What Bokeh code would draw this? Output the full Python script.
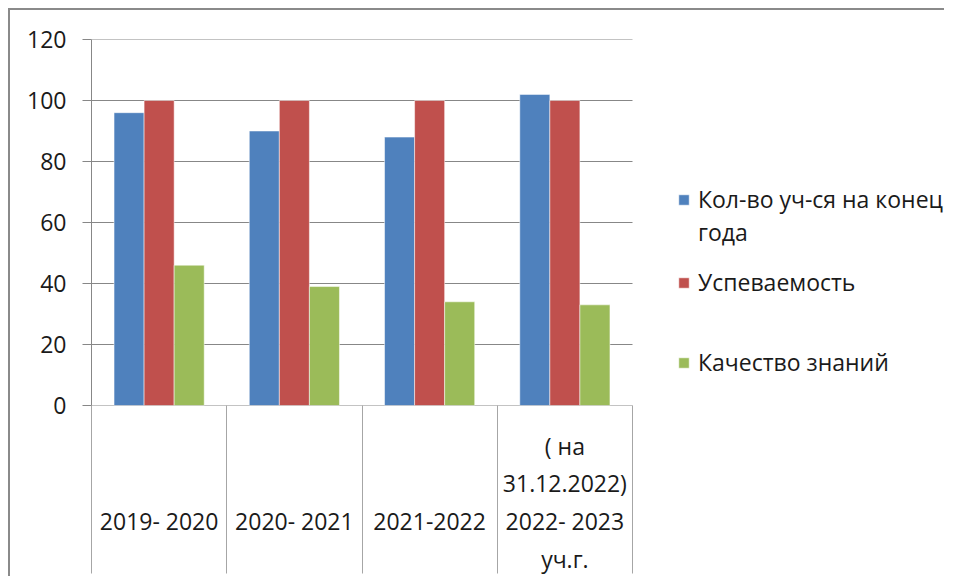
from bokeh.plotting import figure
from bokeh.models import Range1d, FixedTicker, Legend, LegendItem, ColumnDataSource
from bokeh.embed import file_html
from bokeh.resources import INLINE

categories = ["\n\n2019- 2020", "\n\n2020- 2021", "\n\n2021-2022", "( на\n31.12.2022)\n2022- 2023\nуч.г."]
series_names = ["Кол-во уч-ся на конец", "Успеваемость", "Качество знаний"]
series_name_wrap = "года"
students = [96, 90, 88, 102]
progress = [100, 100, 100, 100]
quality = [46, 39, 34, 33]
y_ticks = [0, 20, 40, 60, 80, 100, 120]

colors = ["#4F81BD", "#C0504D", "#9BBB59"]
FONT = "Open Sans"
FS = "23px"
TXT = "#1a1a1a"
GRID = "#878787"

n = len(categories)
centers = [i + 0.5 for i in range(n)]
bw = 1 / 4.5

PLOT_W = 541          # width of the bar area in px
FRAME_W = 855         # frame also holds the legend on the right
x_end = n * FRAME_W / PLOT_W

p = figure(frame_width=FRAME_W, frame_height=366, min_border_left=81, min_border_top=29,
           min_border_bottom=170, min_border_right=0,
           x_range=Range1d(0, x_end), y_range=Range1d(0, 120),
           output_backend="svg", toolbar_location=None)
p.styles = {"position": "absolute", "left": "10px", "top": "10px",
            "box-shadow": "-2px -2px 0px 0px #8a8a8a"}
p.outline_line_color = None
p.background_fill_color = "white"
p.border_fill_color = "white"
p.xgrid.grid_line_color = None
p.ygrid.grid_line_color = None

# gridlines only across the bar area
p.segment(x0=[0] * len(y_ticks), x1=[n] * len(y_ticks), y0=y_ticks, y1=y_ticks,
          line_color=GRID, line_width=1)

renderers = []
for k, (vals, col) in enumerate(zip([students, progress, quality], colors)):
    src = ColumnDataSource(dict(x=[c + (k - 1) * bw for c in centers], top=vals))
    r = p.vbar(x="x", top="top", width=bw, bottom=0, source=src, fill_color=col,
               line_color="white", line_alpha=0.5, line_width=1)
    renderers.append(r)
# invisible renderer for the wrapped second line of the first legend entry
blank = p.vbar(x=[], top=[], width=bw, fill_alpha=0, line_alpha=0)

# y axis
p.yaxis.ticker = FixedTicker(ticks=y_ticks)
p.yaxis.axis_line_color = GRID
p.yaxis.major_tick_line_color = GRID
p.yaxis.major_tick_out = 9
p.yaxis.major_tick_in = 0
p.yaxis.minor_tick_line_color = None
p.yaxis.major_label_standoff = 16
p.yaxis.major_label_text_font = FONT
p.yaxis.major_label_text_font_size = FS
p.yaxis.major_label_text_color = TXT

# x axis: labels at category centres, separators as long minor ticks
p.xaxis.ticker = FixedTicker(ticks=centers, minor_ticks=list(range(n + 1)))
p.xaxis.major_label_overrides = {c: lab for c, lab in zip(centers, categories)}
p.xaxis.axis_line_color = None
p.xaxis.major_tick_out = 0
p.xaxis.major_tick_in = 0
p.xaxis.minor_tick_in = 0
p.xaxis.minor_tick_out = 168
p.xaxis.minor_tick_line_color = "#a6a6a6"
p.xaxis.major_label_standoff = -144
p.xaxis.major_label_text_font = FONT
p.xaxis.major_label_text_font_size = FS
p.xaxis.major_label_text_color = TXT
p.xaxis.major_label_text_line_height = 1.185

common = dict(border_line_color=None, background_fill_alpha=0, glyph_width=13, glyph_height=13,
              label_standoff=8, spacing=1, padding=0, margin=0, label_height=30,
              label_text_font=FONT, label_text_font_size=FS, label_text_color=TXT)
leg1 = Legend(items=[LegendItem(label=series_names[0], renderers=[renderers[0]]),
                     LegendItem(label=series_name_wrap, renderers=[blank])],
              location=(586, 157), **common)
leg2 = Legend(items=[LegendItem(label=series_names[1], renderers=[renderers[1]])],
              location=(586, 107), **common)
leg3 = Legend(items=[LegendItem(label=series_names[2], renderers=[renderers[2]])],
              location=(586, 27), **common)
for lg in (leg1, leg2, leg3):
    p.add_layout(lg, "center")

open("out.html", "w").write(file_html(p, INLINE))
